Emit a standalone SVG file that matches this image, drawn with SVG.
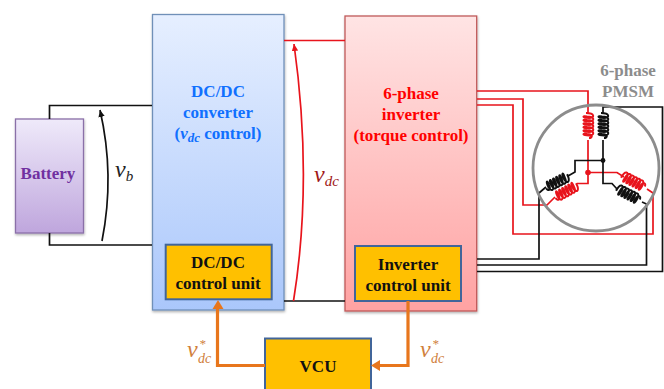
<svg xmlns="http://www.w3.org/2000/svg" xmlns:xlink="http://www.w3.org/1999/xlink" width="664" height="389" viewBox="0 0 664 389">
<style>
.t{font-family:"Liberation Serif",serif;font-weight:bold;font-size:17px;text-anchor:middle}
.m{font-family:"Liberation Serif",serif;font-style:italic;font-size:24px}
.w{fill:none;stroke:#111;stroke-width:1.7}
.r{fill:none;stroke:#e8141c;stroke-width:1.7}
.o{fill:none;stroke:#e8761c;stroke-width:3.2}
.u{fill:#ffc000;stroke:#41659a;stroke-width:2}
</style>
<defs>
<linearGradient id="gb" x1="0" y1="0" x2="0" y2="1"><stop offset="0" stop-color="#e6efff"/><stop offset="1" stop-color="#aac7fb"/></linearGradient>
<linearGradient id="gr" x1="0" y1="0" x2="0" y2="1"><stop offset="0" stop-color="#ffe4e4"/><stop offset="1" stop-color="#ffa2a2"/></linearGradient>
<linearGradient id="gp" x1="0" y1="0" x2="0" y2="1"><stop offset="0" stop-color="#efeafa"/><stop offset="1" stop-color="#bfa6dd"/></linearGradient>
<filter id="sh" x="-10%" y="-10%" width="120%" height="120%"><feDropShadow dx="0.5" dy="1.5" stdDeviation="1.2" flood-color="#000" flood-opacity="0.3"/></filter>
<path id="coil" fill="none" stroke-width="2" d="M0 0l0 2c0-9 5-9 5-3c0 7-2.500 7-1.500 2c0-8 5-8 5-2c0 7-2.500 7-1.500 2c0-8 5-8 5-2c0 7-2.500 7-1.500 2c0-8 5-8 5-2c0 7-2.500 7-1.500 2c0-8 5-8 5-2c0 7-2.500 7-1.500 2c0-8 5-8 5-2c0 7-2.500 7-1.500 2c0-6 4-6 4-2"/>
<marker id="ab" markerUnits="userSpaceOnUse" markerWidth="8" markerHeight="8" refX="7" refY="4" orient="auto"><path d="M0 0.8L7 4L0 7.200z" fill="#111"/></marker>
<marker id="ar" markerUnits="userSpaceOnUse" markerWidth="8" markerHeight="8" refX="7" refY="4" orient="auto"><path d="M0 0.8L7 4L0 7.200z" fill="#e8141c"/></marker>
</defs>
<rect width="664" height="389" fill="#fff"/>
<g id="battery"><rect x="15.500" y="119" width="68" height="114" fill="url(#gp)" stroke="#8a6fa8" stroke-width="1.300" filter="url(#sh)"/><text class="t" x="48" y="179" fill="#7030a0">Battery</text></g>
<g id="dcdc"><rect x="152.500" y="14.500" width="131.500" height="295.500" fill="url(#gb)" stroke="#6f90b8" stroke-width="1.300" filter="url(#sh)"/>
<text class="t" x="218" y="97" fill="#1070ff">DC/DC</text><text class="t" x="218" y="118" fill="#1070ff">converter</text><text class="t" x="218" y="139" fill="#1070ff">(<tspan font-style="italic">v</tspan><tspan font-style="italic" font-size="13" dy="3">dc</tspan><tspan dy="-3"> control)</tspan></text></g>
<g id="dcdc-unit"><rect class="u" x="165.700" y="244.700" width="106" height="54.600"/><text class="t" x="218" y="268" fill="#111">DC/DC</text><text class="t" x="218" y="289" fill="#111">control unit</text></g>
<g id="inverter"><rect x="345" y="16" width="131.700" height="295" fill="url(#gr)" stroke="#c05a5a" stroke-width="1.300" filter="url(#sh)"/>
<text class="t" x="411" y="99" fill="#f00">6-phase</text><text class="t" x="411" y="120" fill="#f00">inverter</text><text class="t" x="411" y="141" fill="#f00">(torque control)</text></g>
<g id="inverter-unit"><rect class="u" x="355" y="246" width="106" height="55"/><text class="t" x="408" y="270" fill="#111">Inverter</text><text class="t" x="408" y="291" fill="#111">control unit</text></g>
<g id="vcu"><rect class="u" x="265" y="338.500" width="106" height="60"/><text class="t" x="318" y="372" fill="#111">VCU</text></g>
<g id="connectors">
<path class="w" d="M49.500 119V105.500H152M49.500 233V245H152"/>
<path class="w" d="M102 241Q115 175 100 110" marker-end="url(#ab)"/>
<path class="r" d="M284 40.500H345"/>
<path class="w" d="M284 301H345"/>
<path class="r" d="M293.500 301Q313 180 294 44" marker-end="url(#ar)"/>
<path class="o" d="M265 365.500H217.500V306"/>
<path d="M218 300L212.500 309H223.500z" fill="#e8761c"/>
<path class="o" d="M408 301V365.500H378"/>
<path d="M371 365.500L380 360V371z" fill="#e8761c"/>
<path class="r" d="M477 91H588V113M588 140V172.500M588 172.500H617L624 177M647 189L653 193V234H513V105H477M588 172.500V183.500H577M555 197L547 205H523V99H477"/>
<path class="w" d="M477 271.500H662.500V107H603V113M603 140V183.500H612L617 189M642 202L646.500 204V265H477M603 160.500H575V172L568 176M546 187L539 193V259H477"/>
</g>
<text class="m" x="115" y="177" fill="#222">v<tspan font-size="15" dy="4">b</tspan></text>
<text class="m" x="314" y="182" fill="#a01818">v<tspan font-size="15" dy="4">dc</tspan></text>
<text class="m" x="187" y="357" fill="#d0803c">v</text><text class="m" x="199" y="348" font-size="13" style="font-size:13px" fill="#d0803c">*</text><text class="m" x="198" y="363" style="font-size:14px" fill="#d0803c">dc</text>
<text class="m" x="420" y="357" fill="#d0803c">v</text><text class="m" x="432" y="348" style="font-size:13px" fill="#d0803c">*</text><text class="m" x="431" y="363" style="font-size:14px" fill="#d0803c">dc</text>
<g id="pmsm">
<circle cx="596" cy="168" r="63" fill="none" stroke="#8c8c8c" stroke-width="2.800"/>
<use xlink:href="#coil" href="#coil" transform="translate(588 113) rotate(90)" stroke="#e8141c"/>
<use xlink:href="#coil" href="#coil" transform="translate(603 113) rotate(90)" stroke="#111"/>
<use xlink:href="#coil" href="#coil" transform="translate(568 176) rotate(153)" stroke="#111"/>
<use xlink:href="#coil" href="#coil" transform="translate(577 185) rotate(151)" stroke="#e8141c"/>
<use xlink:href="#coil" href="#coil" transform="translate(622 176) rotate(27)" stroke="#e8141c"/>
<use xlink:href="#coil" href="#coil" transform="translate(617 189) rotate(27)" stroke="#111"/>
<circle cx="603" cy="160.500" r="2.400" fill="#111"/><circle cx="588" cy="172.500" r="2.800" fill="#e8141c"/>
<text class="t" x="628" y="76" fill="#8c8c8c">6-phase</text><text class="t" x="628" y="97" fill="#8c8c8c">PMSM</text>
</g>
</svg>
